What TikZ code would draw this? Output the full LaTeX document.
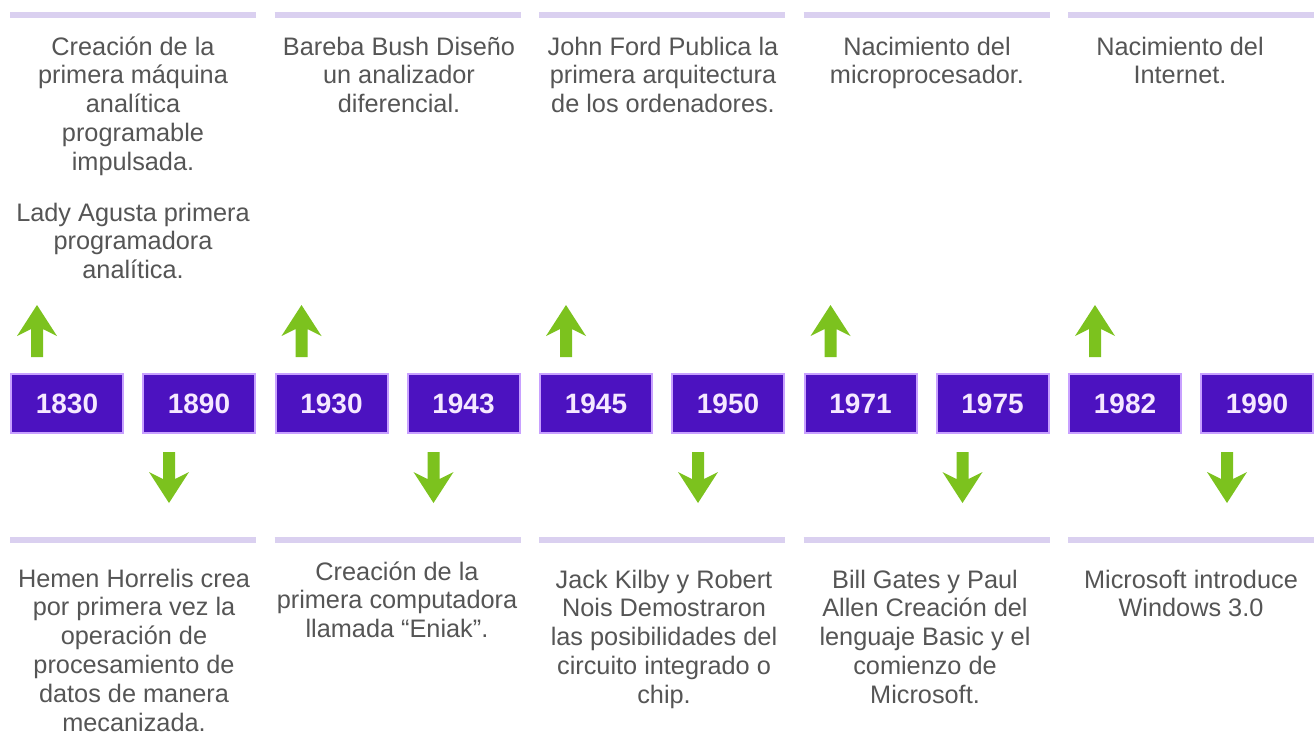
\documentclass[tikz,border=0pt]{standalone}
\usepackage{fontspec}
\setmainfont{Liberation Sans}
\definecolor{boxfill}{RGB}{76,18,192}
\definecolor{boxedge}{RGB}{200,160,255}
\definecolor{yeartext}{RGB}{245,232,255}
\definecolor{desctext}{RGB}{85,85,85}
\definecolor{barcolor}{RGB}{218,208,240}
\definecolor{arrowgreen}{RGB}{124,194,30}
\begin{document}
\begin{tikzpicture}[x=1pt,y=-1pt]
\useasboundingbox[fill=white] (0,0) rectangle (1316,734);
\tikzset{
 yearbox/.style={draw=boxedge, line width=2pt, fill=boxfill, minimum width=112pt, minimum height=59pt, inner sep=0pt, text=yeartext, font=\fontsize{28}{32}\selectfont\bfseries},
 desc/.style={text=desctext, align=center, inner sep=0pt, anchor=north, font=\fontsize{25.3}{28.8}\selectfont},
 bar/.style={draw=barcolor, line width=6pt},
 pics/uparrow/.style={code={\fill[arrowgreen] (0,0) -- (20,31) -- (6,24) -- (6,52) -- (-6,52) -- (-6,24) -- (-20,31) -- cycle;}},
 pics/downarrow/.style={code={\fill[arrowgreen] (0,0) -- (20,-31) -- (6,-24) -- (6,-51) -- (-6,-51) -- (-6,-24) -- (-20,-31) -- cycle;}},
}
% bars and boxes
\foreach \k/\ya/\yb in {0/1830/1890,1/1930/1943,2/1945/1950,3/1971/1975,4/1982/1990}{
  \pgfmathsetmacro{\c}{133+264.5*\k}
  \coordinate (tl\k) at (\c-123,15);
  \coordinate (tr\k) at (\c+123,15);
  \coordinate (bl\k) at (\c-123,540);
  \coordinate (br\k) at (\c+123,540);
  \draw[bar] (tl\k) -- (tr\k);
  \draw[bar] (bl\k) -- (br\k);
  \node[yearbox] (b\ya) at (\c-66,403.5) {\ya};
  \node[yearbox] (b\yb) at (\c+66,403.5) {\yb};
  \pic at (\c-96,305) {uparrow};
  \pic at (\c+36,503) {downarrow};
}
% top texts
\node[desc] (t1) at (133,34.8) {\strut Creación de la\\primera máquina\\analítica\\programable\\impulsada.};
\node[desc] (lady) at (133,200.8) {\strut Lady Agusta primera\\programadora\\analítica.};
\node[desc] (t2) at (399,34.8) {\strut Bareba Bush Diseño\\un analizador\\diferencial.};
\node[desc] (t3) at (663,34.8) {\strut John Ford Publica la\\primera arquitectura\\de los ordenadores.};
\node[desc] (t4) at (927,34.8) {\strut Nacimiento del\\microprocesador.};
\node[desc] (t5) at (1180,34.8) {\strut Nacimiento del\\Internet.};
% bottom texts
\node[desc] (d1) at (134,566.8) {\strut Hemen Horrelis crea\\por primera vez la\\operación de\\procesamiento de\\datos de manera\\mecanizada.};
\node[desc] (d2) at (397,559.8) {\strut Creación de la\\primera computadora\\llamada “Eniak”.};
\node[desc] (d3) at (664,567.8) {\strut Jack Kilby y Robert\\Nois Demostraron\\las posibilidades del\\circuito integrado o\\chip.};
\node[desc] (d4) at (925,567.8) {\strut Bill Gates y Paul\\Allen Creación del\\lenguaje Basic y el\\comienzo de\\Microsoft.};
\node[desc] (d5) at (1191,567.8) {\strut Microsoft introduce\\Windows 3.0};
\end{tikzpicture}
\end{document}
